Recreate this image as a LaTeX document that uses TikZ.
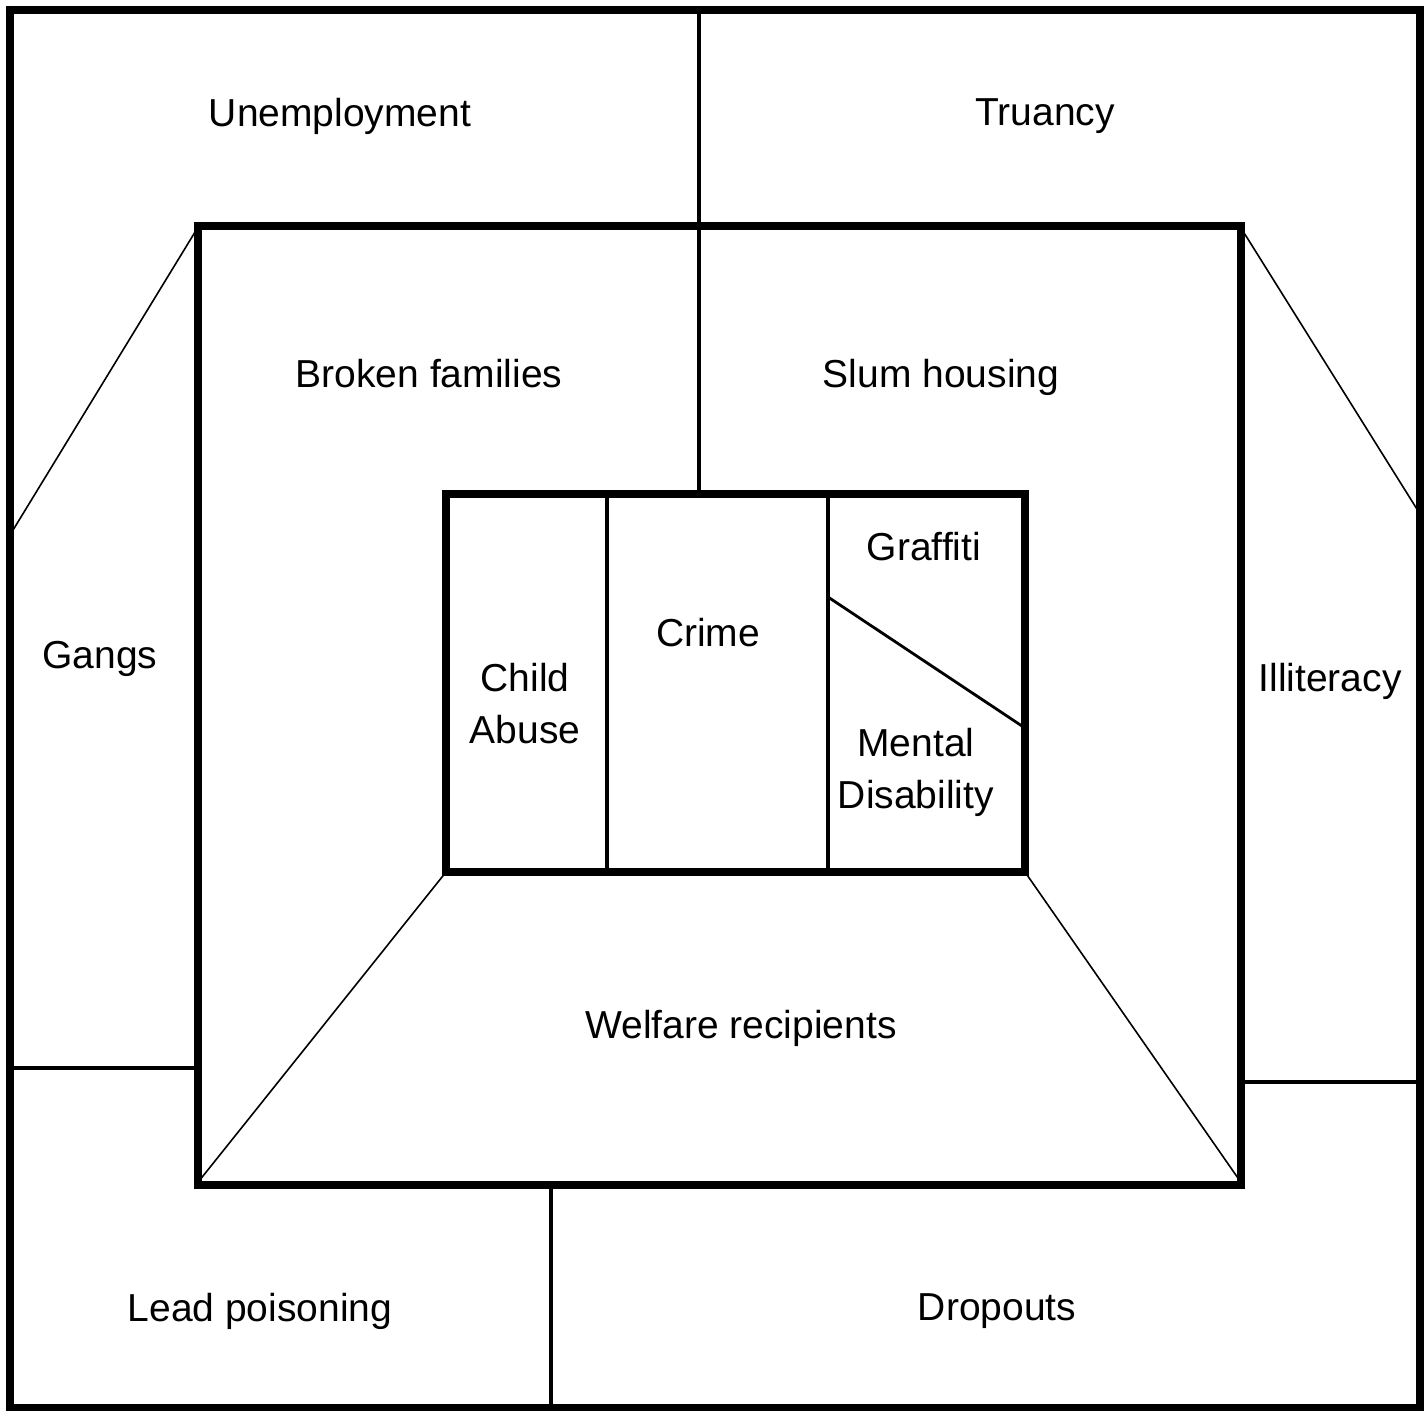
\documentclass[tikz,border=0pt]{standalone}
\usepackage{fontspec}
\setmainfont{Liberation Sans}
\begin{document}
\begin{tikzpicture}[x=0.5pt,y=-0.5pt,
  thickline/.style={line width=4pt,line join=miter,line cap=rect},
  midline/.style={line width=2pt},
  thinline/.style={line width=0.8pt},
  diagline/.style={line width=1.4pt},
  lbl/.style={font=\fontsize{19.5}{26}\selectfont,align=center,inner sep=0pt,text depth=0pt}]
\useasboundingbox (0,0) rectangle (1427,1410);
% corners
\coordinate (O1) at (10,10);   \coordinate (O2) at (1420,1408);
\coordinate (M1) at (197.5,226); \coordinate (M2) at (1241,1185);
\coordinate (I1) at (446,494); \coordinate (I2) at (1025,872);
% separators
\draw[midline] (699,10) -- (699,494);
\draw[midline] (10,1068) -- (197.5,1068);
\draw[midline] (1241,1082) -- (1420,1082);
\draw[midline] (551,1185) -- (551,1408);
\draw[midline] (607,494) -- (607,872);
\draw[midline] (828,494) -- (828,872);
\draw[thinline] (10,535) -- (197.5,228);
\draw[thinline] (1241,228) -- (1420,514);
\draw[thinline] (446,872) -- (199,1181);
\draw[thinline] (1025,872) -- (1240,1181);
\draw[diagline] (828,597) -- (1025,728);
% frames
\draw[thickline] (O1) rectangle (O2);
\draw[thickline] (M1) rectangle (M2);
\draw[thickline] (I1) rectangle (I2);
% labels
\node[lbl] (unemp) at (340,112) {Unemployment};
\node[lbl] (truancy) at (1045,112) {Truancy};
\node[lbl] (broken) at (429,373) {Broken families};
\node[lbl] (slum) at (941,373) {Slum housing};
\node[lbl] (gangs) at (100,655) {Gangs};
\node[lbl] (illit) at (1330,677) {Illiteracy};
\node[lbl] (child) at (525,703) {Child\\Abuse};
\node[lbl] (crime) at (708,632) {Crime};
\node[lbl] (graff) at (924,546) {Graffiti};
\node[lbl] (mental) at (916,768) {Mental\\Disability};
\node[lbl] (welfare) at (741,1024) {Welfare recipients};
\node[lbl] (lead) at (260,1307) {Lead poisoning};
\node[lbl] (drop) at (997,1307) {Dropouts};
\end{tikzpicture}
\end{document}
